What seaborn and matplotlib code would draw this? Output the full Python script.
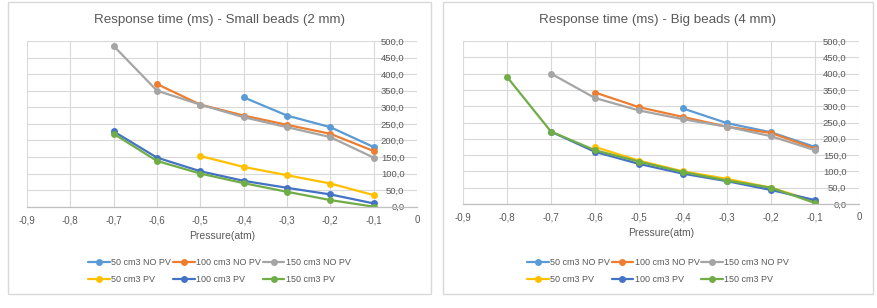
import numpy as np
import pandas as pd
import matplotlib.pyplot as plt
import seaborn as sns
from matplotlib.patches import Rectangle
from matplotlib.ticker import FuncFormatter

# -----------------------------
# Data
# -----------------------------
series_names = ["50 cm3 NO PV", "100 cm3 NO PV", "150 cm3 NO PV",
                "50 cm3 PV", "100 cm3 PV", "150 cm3 PV"]
colors = ["#5B9BD5", "#ED7D31", "#A5A5A5", "#FFC000", "#4472C4", "#70AD47"]

# Small beads (2 mm)
small_x = {
    "50 cm3 NO PV": [-0.4, -0.3, -0.2, -0.1],
    "100 cm3 NO PV": [-0.6, -0.5, -0.4, -0.3, -0.2, -0.1],
    "150 cm3 NO PV": [-0.7, -0.6, -0.5, -0.4, -0.3, -0.2, -0.1],
    "50 cm3 PV": [-0.5, -0.4, -0.3, -0.2, -0.1],
    "100 cm3 PV": [-0.7, -0.6, -0.5, -0.4, -0.3, -0.2, -0.1],
    "150 cm3 PV": [-0.7, -0.6, -0.5, -0.4, -0.3, -0.2, -0.1],
}
small_y = {
    "50 cm3 NO PV": [330, 275, 240, 180],
    "100 cm3 NO PV": [370, 308, 275, 247, 220, 168],
    "150 cm3 NO PV": [485, 350, 308, 270, 240, 210, 148],
    "50 cm3 PV": [153, 120, 95, 70, 35],
    "100 cm3 PV": [227, 148, 107, 78, 57, 37, 10],
    "150 cm3 PV": [220, 138, 100, 71, 45, 20, 0],
}

# Big beads (4 mm)
big_x = {
    "50 cm3 NO PV": [-0.4, -0.3, -0.2, -0.1],
    "100 cm3 NO PV": [-0.6, -0.5, -0.4, -0.3, -0.2, -0.1],
    "150 cm3 NO PV": [-0.7, -0.6, -0.5, -0.4, -0.3, -0.2, -0.1],
    "50 cm3 PV": [-0.6, -0.5, -0.4, -0.3, -0.2, -0.1],
    "100 cm3 PV": [-0.7, -0.6, -0.5, -0.4, -0.3, -0.2, -0.1],
    "150 cm3 PV": [-0.8, -0.7, -0.6, -0.5, -0.4, -0.3, -0.2, -0.1],
}
big_y = {
    "50 cm3 NO PV": [293, 248, 220, 175],
    "100 cm3 NO PV": [342, 297, 267, 237, 218, 170],
    "150 cm3 NO PV": [400, 325, 287, 260, 237, 208, 165],
    "50 cm3 PV": [175, 133, 100, 77, 50, 8],
    "100 cm3 PV": [222, 160, 123, 93, 70, 43, 12],
    "150 cm3 PV": [390, 222, 165, 130, 98, 72, 50, 3],
}

titles = ["Response time (ms) - Small beads (2 mm)",
          "Response time (ms) - Big beads (4 mm)"]


def to_long(xs, ys):
    rows = []
    for name in series_names:
        for x, y in zip(xs[name], ys[name]):
            rows.append({"series": name, "pressure": x, "time": y})
    return pd.DataFrame(rows)


sns.set_theme(style="white")
plt.rcParams["font.family"] = ["Liberation Sans", "DejaVu Sans"]
text_grey = "#595959"

fig = plt.figure(figsize=(8.77, 3.08), dpi=100)

# panel boxes and plot areas, in pixels of the 877x308 canvas
panels = [
    dict(box=(8, 431), ax=(27, 417, 41, 206.7)),
    dict(box=(443, 873), ax=(463, 859, 41, 204)),
]
W, H = 877, 308

for panel, title, (xs, ys) in zip(panels, titles, [(small_x, small_y), (big_x, big_y)]):
    bx0, bx1 = panel["box"]
    fig.add_artist(Rectangle((bx0 / W, 1 - 294 / H), (bx1 - bx0) / W, 292 / H,
                             transform=fig.transFigure, fill=False,
                             edgecolor="#D9D9D9", lw=1))
    x0, x1, yt, yb = panel["ax"]
    ax = fig.add_axes([x0 / W, 1 - yb / H, (x1 - x0) / W, (yb - yt) / H])

    df = to_long(xs, ys)
    sns.lineplot(data=df, x="pressure", y="time", hue="series",
                 hue_order=series_names, palette=colors, marker="o",
                 markersize=5, markeredgewidth=0, linewidth=1.6,
                 estimator=None, sort=True, legend=False, ax=ax)

    ax.set_xlim(-0.9, 0)
    ax.set_ylim(0, 500)
    ax.set_xticks(np.round(np.arange(-0.9, 0.01, 0.1), 1))
    ax.set_yticks(np.arange(0, 501, 50))
    ax.xaxis.set_major_formatter(FuncFormatter(
        lambda v, p: "0" if abs(v) < 1e-9 else f"{v:.1f}".replace(".", ",")))
    ax.yaxis.set_major_formatter(FuncFormatter(
        lambda v, p: f"{v:.1f}".replace(".", ",")))
    ax.grid(True, color="#D9D9D9", lw=0.8)
    ax.set_axisbelow(True)
    for s in ["top", "left", "right"]:
        ax.spines[s].set_visible(False)
    ax.spines["bottom"].set_color("#BFBFBF")
    ax.spines["bottom"].set_linewidth(0.9)

    # y labels sit just left of the axis at x = 0, inside the plot
    ax.yaxis.set_ticks_position("right")
    ax.tick_params(axis="y", length=0, pad=-9, labelsize=6.8, labelcolor=text_grey)
    for lbl in ax.get_yticklabels():
        lbl.set_horizontalalignment("right")
    ax.tick_params(axis="x", length=0, pad=6, labelsize=7, labelcolor=text_grey)

    ax.set_xlabel("Pressure(atm)", fontsize=7.5, color=text_grey, labelpad=4)
    ax.set_ylabel("")

    cx = (bx0 + bx1) / 2 / W
    fig.text(cx, 1 - 20 / H, title, ha="center", va="center",
             fontsize=9.6, color=text_grey)

    handles = ax.get_lines()[:len(series_names)]
    order = [0, 3, 1, 4, 2, 5]
    fig.legend([handles[i] for i in order], [series_names[i] for i in order],
               ncol=3, loc="center", bbox_to_anchor=(cx, 1 - 271 / H),
               frameon=False, fontsize=6.5, labelcolor=text_grey,
               handlelength=2.4, handletextpad=0.15, columnspacing=0.2,
               labelspacing=0.85, borderpad=0)

fig.savefig("out.png", dpi=100)
